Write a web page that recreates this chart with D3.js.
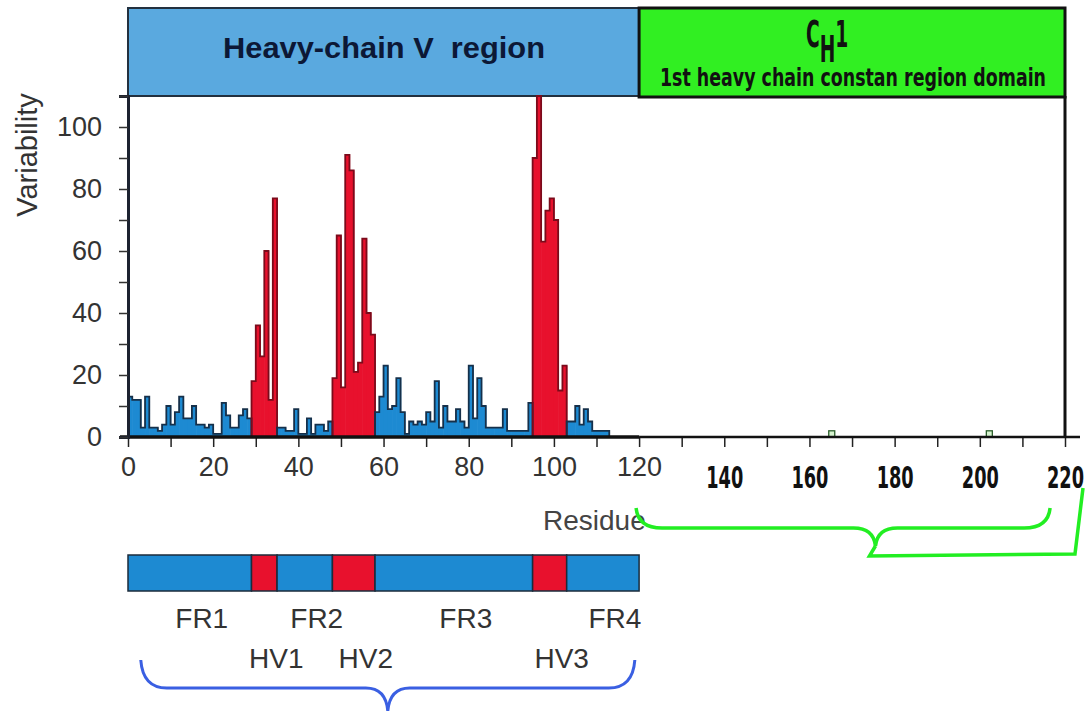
<!DOCTYPE html>
<html>
<head>
<meta charset="utf-8">
<script src="https://cdn.jsdelivr.net/npm/d3@7"></script>
<style>
  body { margin: 0; background: #fff; }
  svg { display: block; }
</style>
</head>
<body>
<svg id="chart" width="1086" height="711"></svg>
<script>
// variability per residue of the V region (residues 0..112)
const residues = d3.range(0, 113);
const variability = [
  13, 12, 12, 3, 13, 3, 3, 2, 4, 10,
  4, 8, 13, 6, 6, 10, 4, 4, 3, 4,
  1, 1, 11, 7, 3, 3, 7, 9, 6, 18,
  36, 26, 60, 12, 77, 3, 3, 2, 2, 9,
  1, 1, 6, 1, 4, 4, 2, 5, 19, 65,
  16, 91, 86, 21, 24, 64, 40, 33, 8, 13,
  23, 9, 10, 19, 8, 1, 5, 4, 5, 4,
  8, 5, 18, 3, 10, 5, 5, 9, 5, 3,
  23, 6, 19, 10, 3, 3, 3, 3, 9, 2,
  2, 2, 2, 2, 11, 90, 110, 63, 73, 77,
  70, 15, 23, 5, 5, 10, 4, 9, 5, 2,
  2, 2, 2
];

// C region: almost nothing varies
const constResidues = [165, 202];
const constVariability = [2, 2];

// framework / hypervariable segments
const segNames = ["FR1", "HV1", "FR2", "HV2", "FR3", "HV3", "FR4"];
const segStart = [0, 29, 35, 48, 58, 95, 103];
const segEnd   = [29, 35, 48, 58, 95, 103, 120];

const xTicks = d3.range(0, 221, 10);
const yTicks = d3.range(0, 111, 10);

const svg = d3.select("#chart");

const x = d3.scaleLinear().domain([0, 220]).range([128, 1065]);
const y = d3.scaleLinear().domain([0, 110]).range([437, 96]);

const BLUE = "#1d8ad2", BLUE_EDGE = "#16304a";
const RED = "#e8112d", RED_EDGE = "#7a0b1b";

const segOf = r => segStart.findIndex((s, i) => r >= s && r < segEnd[i]);
const isHV = i => segNames[i].startsWith("HV");
const sans = "Liberation Sans, Arial, sans-serif";
const condensed = "DejaVu Sans Condensed, Liberation Sans Narrow, DejaVu Sans, sans-serif";

// banners
svg.append("rect")
  .attr("x", x(0)).attr("y", 8)
  .attr("width", x(120) - x(0)).attr("height", 88)
  .attr("fill", "#5aa9df").attr("stroke", "#22303f").attr("stroke-width", 2);

svg.append("text")
  .attr("x", 384).attr("y", 58)
  .attr("text-anchor", "middle")
  .attr("font-family", sans)
  .attr("font-weight", "bold").attr("font-size", 30)
  .attr("fill", "#0c1836")
  .attr("textLength", 322).attr("lengthAdjust", "spacingAndGlyphs")
  .style("white-space", "pre")
  .text("Heavy-chain V  region");

svg.append("rect")
  .attr("x", x(120)).attr("y", 8)
  .attr("width", x(220) - x(120)).attr("height", 89)
  .attr("fill", "#31ef22").attr("stroke", "#111").attr("stroke-width", 3);

// C_H1 title, squeezed horizontally
const chTitle = svg.append("text")
  .attr("transform", "translate(806,47) scale(0.56,1)")
  .attr("font-family", condensed).attr("font-weight", "bold")
  .attr("font-size", 37).attr("fill", "#111");
chTitle.append("tspan").text("C");
chTitle.append("tspan").attr("dy", 15).text("H");
chTitle.append("tspan").attr("dy", -15).text("1");

svg.append("text")
  .attr("x", 660).attr("y", 86)
  .attr("font-family", condensed).attr("font-weight", "bold")
  .attr("font-size", 24).attr("fill", "#111")
  .attr("textLength", 386).attr("lengthAdjust", "spacingAndGlyphs")
  .text("1st heavy chain constan region domain");

// right border of the C region
svg.append("line")
  .attr("x1", x(220)).attr("x2", x(220))
  .attr("y1", 96).attr("y2", y(0))
  .attr("stroke", "#111").attr("stroke-width", 3);

// bars
svg.append("g").selectAll("rect")
  .data(residues)
  .join("rect")
  .attr("x", r => x(r))
  .attr("width", r => x(r + 1) - x(r) + 0.6)
  .attr("y", r => y(variability[r]))
  .attr("height", r => y(0) - y(variability[r]))
  .attr("fill", r => isHV(segOf(r)) ? RED : BLUE);

// step outline per segment
const step = d3.line().curve(d3.curveStepAfter);
segNames.forEach((name, i) => {
  const rs = residues.filter(r => r >= segStart[i] && r < segEnd[i]);
  if (!rs.length) return;
  const pts = rs.map(r => [x(r), y(variability[r])]);
  const last = rs[rs.length - 1];
  pts.push([x(last + 1), y(variability[last])]);
  const d = "M" + x(rs[0]) + "," + y(0) + "L" + step(pts).slice(1) + "V" + y(0);
  svg.append("path")
    .attr("d", d)
    .attr("fill", "none")
    .attr("stroke", isHV(i) ? RED_EDGE : BLUE_EDGE)
    .attr("stroke-width", 1.8);
});

svg.append("g").selectAll("rect")
  .data(constResidues)
  .join("rect")
  .attr("x", r => x(r) - 2)
  .attr("width", 6)
  .attr("y", (r, i) => y(constVariability[i]))
  .attr("height", (r, i) => y(0) - y(constVariability[i]))
  .attr("fill", "#d6f3cf").attr("stroke", "#2b5e2b").attr("stroke-width", 1.3);

// x axis
const xAxis = svg.append("g")
  .attr("transform", `translate(0,${y(0)})`)
  .call(d3.axisBottom(x).tickValues(xTicks).tickSize(10).tickPadding(10)
    .tickFormat(d => d % 20 === 0 ? d : ""));
xAxis.select(".domain").remove();
xAxis.selectAll(".tick line").attr("stroke", "#222").attr("stroke-width", 1.5);
xAxis.selectAll(".tick text")
  .attr("font-size", 27)
  .attr("font-family", sans)
  .attr("fill", "#333");
xAxis.selectAll(".tick").filter(d => d > 120).select("text")
  .attr("y", 29)
  .attr("font-family", condensed)
  .attr("font-weight", "bold")
  .attr("font-size", 31)
  .attr("fill", "#111")
  .attr("textLength", 37).attr("lengthAdjust", "spacingAndGlyphs");

svg.append("line")
  .attr("x1", x(0) - 8).attr("x2", x(120))
  .attr("y1", y(0)).attr("y2", y(0))
  .attr("stroke", "#111").attr("stroke-width", 3.5);
svg.append("line")
  .attr("x1", x(120)).attr("x2", x(220) + 15)
  .attr("y1", y(0)).attr("y2", y(0))
  .attr("stroke", "#111").attr("stroke-width", 2.5);

// y axis
const yAxis = svg.append("g")
  .attr("transform", `translate(${x(0)},0)`)
  .call(d3.axisLeft(y).tickValues(yTicks).tickSize(9).tickPadding(17)
    .tickFormat(d => d % 20 === 0 ? d : ""));
yAxis.select(".domain").attr("stroke", "#1c2230").attr("stroke-width", 3);
yAxis.selectAll(".tick line").attr("stroke", "#333").attr("stroke-width", 1.5);
yAxis.selectAll(".tick text")
  .attr("font-size", 27)
  .attr("font-family", sans)
  .attr("fill", "#333");

svg.append("text")
  .attr("transform", "translate(37,155) rotate(-90)")
  .attr("text-anchor", "middle")
  .attr("font-family", sans)
  .attr("font-size", 29).attr("fill", "#333")
  .text("Variability");

svg.append("text")
  .attr("x", x(109.5)).attr("y", y(0) + 93)
  .attr("text-anchor", "middle")
  .attr("font-family", sans)
  .attr("font-size", 28).attr("fill", "#444")
  .text("Residue");

// segment bar below the chart
const barTop = 555, barH = 36;
svg.append("g").selectAll("rect")
  .data(segNames)
  .join("rect")
  .attr("x", (d, i) => x(segStart[i]))
  .attr("width", (d, i) => x(segEnd[i]) - x(segStart[i]))
  .attr("y", barTop).attr("height", barH)
  .attr("fill", (d, i) => isHV(i) ? RED : BLUE)
  .attr("stroke", "#1b2b3b").attr("stroke-width", 1.5);

svg.append("g").selectAll("text")
  .data(segNames)
  .join("text")
  .attr("x", (d, i) => x((segStart[i] + segEnd[i]) / 2) + 12)
  .attr("y", (d, i) => isHV(i) ? 668 : 628)
  .attr("text-anchor", "middle")
  .attr("font-family", sans)
  .attr("font-size", 28).attr("fill", "#333")
  .text(d => d);

// braces
function brace(x0, x1, xm, yTop, yMid, yTip) {
  const r = 26;
  return `M${x0},${yTop} Q${x0 + 2},${yMid} ${x0 + r},${yMid} L${xm - 22},${yMid}` +
    ` Q${xm - 2},${yMid} ${xm},${yTip} Q${xm + 2},${yMid} ${xm + 22},${yMid}` +
    ` L${x1 - r},${yMid} Q${x1 - 2},${yMid} ${x1},${yTop}`;
}

svg.append("path")
  .attr("d", brace(x(3), x(119), x(61), 660, 688, 711))
  .attr("fill", "none").attr("stroke", "#3a5fe2").attr("stroke-width", 3);

const gx0 = x(120) - 3, gx1 = x(216.5), gxm = x(175.5);
svg.append("path")
  .attr("d", brace(gx0, gx1, gxm, 508, 528, 546))
  .attr("fill", "none").attr("stroke", "#22ee22").attr("stroke-width", 3.5);
svg.append("path")
  .attr("d", `M${gxm},546 L${gxm - 6},556 L${x(220) + 10},554 L${x(220) + 18},488`)
  .attr("fill", "none").attr("stroke", "#22ee22").attr("stroke-width", 3.5);
</script>
</body>
</html>
